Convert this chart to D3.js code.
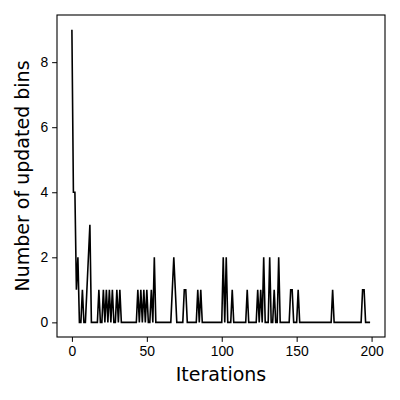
<!DOCTYPE html>
<html lang="en">
<head>
<meta charset="utf-8" />
<title>Updated bins per iteration</title>
<script src="https://d3js.org/d3.v7.min.js"></script>
<style>
    body { margin: 0; background: #fff; }
    svg { display: block; font-family: "DejaVu Sans", sans-serif; }
    .tick text { font-size: 13.9px; fill: #000; }
    .tick line, .domain { stroke: #000; }
    .axis-title { font-size: 19px; fill: #000; }
</style>
</head>
<body>
<svg width="400" height="400"></svg>
<script>
    // number of updated bins per iteration (iterations 0..199)
    const updatedBins = [
        9, 4, 4, 1, 2, 0, 0, 1, 0, 0, 1, 2, 3, 0, 0, 0, 0, 0, 1, 0,
        0, 1, 0, 1, 0, 1, 0, 1, 0, 0, 1, 0, 1, 0, 0, 0, 0, 0, 0, 0,
        0, 0, 0, 0, 1, 0, 1, 0, 1, 0, 1, 0, 0, 1, 0, 2, 0, 0, 0, 0,
        0, 0, 0, 0, 0, 0, 0, 1, 2, 1, 0, 0, 0, 0, 0, 1, 1, 0, 0, 0,
        0, 0, 0, 0, 1, 0, 1, 0, 0, 0, 0, 0, 0, 0, 0, 0, 0, 0, 0, 0,
        0, 2, 0, 2, 0, 0, 0, 1, 0, 0, 0, 0, 0, 0, 0, 0, 0, 1, 0, 0,
        0, 0, 0, 0, 1, 0, 1, 0, 2, 0, 0, 0, 2, 0, 0, 1, 0, 0, 2, 0,
        0, 0, 0, 0, 0, 0, 1, 1, 0, 0, 0, 1, 0, 0, 0, 0, 0, 0, 0, 0,
        0, 0, 0, 0, 0, 0, 0, 0, 0, 0, 0, 0, 0, 0, 1, 0, 0, 0, 0, 0,
        0, 0, 0, 0, 0, 0, 0, 0, 0, 0, 0, 0, 0, 0, 1, 1, 0, 0, 0, 0
    ];
    const xTicks = [0, 50, 100, 150, 200];
    const yTicks = [0, 2, 4, 6, 8];

    const svg = d3.select("svg");
    const margin = { top: 15, right: 15, bottom: 63, left: 57 };
    const width = +svg.attr("width");
    const height = +svg.attr("height");

    // matplotlib-like 5% padding around the data
    const n = updatedBins.length - 1;
    const yMax = d3.max(updatedBins);
    const x = d3.scaleLinear()
        .domain([-0.05 * n, n * 1.05])
        .range([margin.left, width - margin.right]);
    const y = d3.scaleLinear()
        .domain([-0.05 * yMax, yMax * 1.05])
        .range([height - margin.bottom, margin.top]);

    const line = d3.line()
        .x((d, i) => x(i))
        .y(d => y(d));

    svg.append("path")
        .datum(updatedBins)
        .attr("fill", "none")
        .attr("stroke", "#000")
        .attr("stroke-width", 1.6)
        .attr("stroke-linejoin", "miter")
        .attr("d", line);

    svg.append("g")
        .attr("transform", `translate(0,${height - margin.bottom})`)
        .call(d3.axisBottom(x).tickValues(xTicks).tickSize(4.9).tickPadding(4).tickFormat(d3.format("d")))
        .call(g => g.select(".domain").remove());

    svg.append("g")
        .attr("transform", `translate(${margin.left},0)`)
        .call(d3.axisLeft(y).tickValues(yTicks).tickSize(4.9).tickPadding(4).tickFormat(d3.format("d")))
        .call(g => g.select(".domain").remove());

    // axes frame
    svg.append("rect")
        .attr("x", margin.left)
        .attr("y", margin.top)
        .attr("width", width - margin.left - margin.right)
        .attr("height", height - margin.top - margin.bottom)
        .attr("fill", "none")
        .attr("stroke", "#000")
        .attr("stroke-width", 1.1);

    svg.append("text")
        .attr("class", "axis-title")
        .attr("x", (margin.left + width - margin.right) / 2)
        .attr("y", 381)
        .attr("text-anchor", "middle")
        .text("Iterations");

    svg.append("text")
        .attr("class", "axis-title")
        .attr("transform", "rotate(-90)")
        .attr("x", -(margin.top + height - margin.bottom) / 2)
        .attr("y", 29)
        .attr("text-anchor", "middle")
        .text("Number of updated bins");
</script>
</body>
</html>
